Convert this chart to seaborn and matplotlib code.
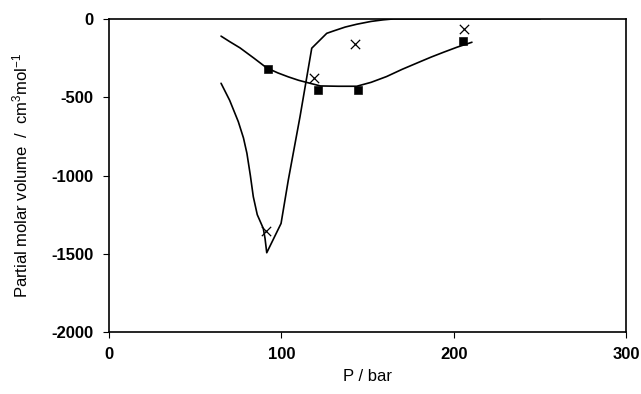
import matplotlib
matplotlib.use("Agg")
import matplotlib.pyplot as plt
import seaborn as sns
import pandas as pd

# Smooth fitted curve through the squares
curve_a_p = [65, 70, 76, 84, 91.5, 98, 104, 110, 116.6, 122.6, 133, 143.7, 152, 161, 170, 180.5, 187, 194, 202, 210.5]
curve_a_v = [-110, -145, -185, -250, -313, -345, -370, -392, -411, -428, -430, -430, -405, -368, -322, -273, -243, -213, -180, -149]

# Sharp V-shaped curve
curve_b_p = [65, 70, 75, 78, 80, 82, 83.7, 86, 89.5, 90.5, 91.5, 99.8, 104, 110.8, 117.6, 126.3, 130.2, 137, 143.7, 152, 159, 165, 250]
curve_b_v = [-411, -520, -656, -760, -858, -1000, -1135, -1250, -1338, -1401, -1493, -1306, -1029, -624, -187, -92, -77, -52, -34, -16, -6, 0, 0]

# Measured points
square_p = [92, 121, 144.7, 205.6]
square_v = [-320, -456, -453, -140]
cross_p = [91, 118.8, 142.4, 206]
cross_v = [-1353, -375, -162, -64]

sns.set_style("white")
plt.rcParams["font.family"] = ["Liberation Sans", "DejaVu Sans"]
plt.rcParams["mathtext.default"] = "regular"
plt.rcParams["axes.unicode_minus"] = False
plt.rcParams["text.color"] = "black"
plt.rcParams["axes.labelcolor"] = "black"

fig = plt.figure(figsize=(6.41, 3.94), dpi=100)
ax = fig.add_axes([0.170, 0.157, 0.807, 0.795])

df_a = pd.DataFrame({"P": curve_a_p, "V": curve_a_v})
df_b = pd.DataFrame({"P": curve_b_p, "V": curve_b_v})
sns.lineplot(data=df_a, x="P", y="V", sort=False, estimator=None, color="black", lw=1.2, ax=ax)
sns.lineplot(data=df_b, x="P", y="V", sort=False, estimator=None, color="black", lw=1.2, ax=ax)
sns.scatterplot(x=square_p, y=square_v, marker="s", color="black", s=30, edgecolor="black", ax=ax, zorder=3)
sns.scatterplot(x=cross_p, y=cross_v, marker="x", color="black", s=45, linewidth=0.9, ax=ax, zorder=3)

ax.set_xlim(0, 300)
ax.set_ylim(-2000, 0)
ax.set_xticks([0, 100, 200, 300])
ax.set_yticks([-2000, -1500, -1000, -500, 0])
for side in ["top", "bottom", "left", "right"]:
    ax.spines[side].set_visible(True)
    ax.spines[side].set_color("black")
    ax.spines[side].set_linewidth(1.2)
ax.tick_params(axis="both", which="major", direction="out", length=4, width=0.8,
               colors="black", labelsize=12, pad=7)
ax.tick_params(left=True, bottom=True)
for lbl in ax.get_xticklabels() + ax.get_yticklabels():
    lbl.set_fontweight("bold")

ax.set_xlabel("P / bar", fontsize=12, labelpad=5)
ax.set_ylabel("Partial molar volume  /  cm$^{3}$mol$^{-1}$", fontsize=12, labelpad=15)

fig.savefig("out.png", dpi=100)
